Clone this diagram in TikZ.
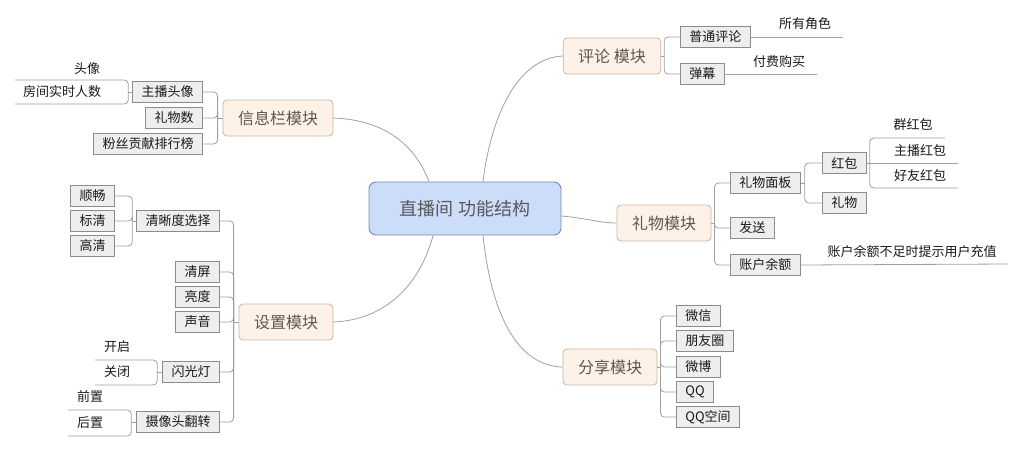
\documentclass[tikz,border=0pt]{standalone}
\usepackage{fontspec}
\usetikzlibrary{calc}
\newfontfamily\cjk{Noto Sans CJK SC}
\definecolor{cfill}{HTML}{CCDDFA}
\definecolor{cdraw}{HTML}{7089B6}
\definecolor{mfill}{HTML}{FDF1E8}
\definecolor{mdraw}{HTML}{C8B6A8}
\definecolor{sfill}{HTML}{EEEEEE}
\definecolor{sdraw}{HTML}{8C8C8C}
\definecolor{lcol}{HTML}{A0A0A0}
\definecolor{mtext}{HTML}{5E5650}
\tikzset{
  rootbox/.style={draw=cdraw, fill=cfill, rounded corners=7pt, line width=0.9pt,
    minimum width=192pt, minimum height=53pt, inner sep=0pt,
    font=\cjk\fontsize{18}{20}\selectfont, text=black!65},
  modbox/.style={draw=mdraw, fill=mfill, rounded corners=4pt, line width=0.8pt,
    minimum height=36pt, inner xsep=15pt, inner ysep=0pt,
    font=\cjk\fontsize{16}{18}\selectfont, text=mtext},
  subbox/.style={draw=sdraw, fill=sfill, line width=0.7pt,
    minimum height=21pt, inner xsep=9pt, inner ysep=0pt,
    font=\cjk\fontsize{13}{15}\selectfont, text=black!90},
  leaftext/.style={inner sep=0pt, font=\cjk\fontsize{13}{15}\selectfont, text=black!90},
  conn/.style={draw=lcol, line width=0.8pt},
  bracket/.style={draw=lcol, line width=0.8pt, rounded corners=4pt},
}
\begin{document}
\begin{tikzpicture}[x=1pt,y=-1pt]
\useasboundingbox (0,0) rectangle (1024,450);
\fill[white] (0,0) rectangle (1024,450);

% root
\node[rootbox] (root) at (465,208.5) {直播间 功能结构};

% modules
\node[modbox] (info) at (278,118) {信息栏模块};
\node[modbox] (set) at (286,322) {设置模块};
\node[modbox] (pl) at (612,56) {评论 模块};
\node[modbox] (gift) at (664,223) {礼物模块};
\node[modbox] (share) at (610,367) {分享模块};

% root connectors
\coordinate (r1) at ($(root.north)+(-36,0)$);
\coordinate (r2) at ($(root.north)+(18,0)$);
\coordinate (r3) at (root.east |- 0,216);
\coordinate (r4) at ($(root.south)+(-32,0)$);
\coordinate (r5) at ($(root.south)+(18,0)$);
\draw[conn] (r1) .. controls (415,145) and (385,120) .. (info.east);
\draw[conn] (r2) .. controls (492,110) and (520,58) .. (pl.west);
\draw[conn] (r3) .. controls (585,218) and (600,223) .. (gift.west);
\draw[conn] (r4) .. controls (420,285) and (385,320) .. (set.east);
\draw[conn] (r5) .. controls (492,320) and (520,366) .. (share.west);

% ---------- info module ----------
\node[subbox, anchor=east] (zbtx) at (203,92) {主播头像};
\node[subbox, anchor=east] (lws) at (203,118) {礼物数};
\node[subbox, anchor=east] (fsph) at (203,144) {粉丝贡献排行榜};
\draw[conn] (info.west) -- ++(-5,0) coordinate (infoj);
\draw[bracket] (infoj) |- (zbtx.east);
\draw[bracket] (infoj) |- (lws.east);
\draw[bracket] (infoj) |- (fsph.east);

\node[leaftext] (tx) at (87,69) {头像};
\node[leaftext] (fjrs) at (62,92) {房间实时人数};
\coordinate (txend) at (15,80);
\coordinate (fjrsend) at (15,104);
\draw[conn] (zbtx.west) -- ++(-4,0) coordinate (zbtxj);
\draw[bracket] (zbtxj) |- (txend);
\draw[bracket] (zbtxj) |- (fjrsend);

% ---------- settings module ----------
\node[subbox, anchor=east] (qxd) at (220,221) {清晰度选择};
\node[subbox, anchor=east] (qp) at (220,272) {清屏};
\node[subbox, anchor=east] (ld) at (220,297) {亮度};
\node[subbox, anchor=east] (sy) at (220,322) {声音};
\node[subbox, anchor=east] (sgd) at (220,372) {闪光灯};
\node[subbox, anchor=east] (sxt) at (220,422) {摄像头翻转};
\draw[conn] (set.west) -- ++(-5,0) coordinate (setj);
\foreach \c in {qxd,qp,ld,sy,sgd,sxt}{\draw[bracket] (setj) |- (\c.east);}

\node[subbox, anchor=east] (sc) at (115,196) {顺畅};
\node[subbox, anchor=east] (bq) at (115,221) {标清};
\node[subbox, anchor=east] (gq) at (115,246) {高清};
\draw[conn] (qxd.west) -- ++(-4,0) coordinate (qxdj);
\foreach \c in {sc,bq,gq}{\draw[bracket] (qxdj) |- (\c.east);}

\node[leaftext] (kq) at (117,347) {开启};
\node[leaftext] (gb) at (117,372) {关闭};
\coordinate (kqend) at (95,360);
\coordinate (gbend) at (95,385);
\draw[conn] (sgd.west) -- ++(-5,0) coordinate (sgdj);
\draw[bracket] (sgdj) |- (kqend);
\draw[bracket] (sgdj) |- (gbend);

\node[leaftext] (qz) at (90,397) {前置};
\node[leaftext] (hz) at (90,423) {后置};
\coordinate (qzend) at (68,410);
\coordinate (hzend) at (68,436);
\draw[conn] (sxt.west) -- ++(-5,0) coordinate (sxtj);
\draw[bracket] (sxtj) |- (qzend);
\draw[bracket] (sxtj) |- (hzend);

% ---------- comment module ----------
\node[subbox, anchor=west] (ptpl) at (680,37) {普通评论};
\node[subbox, anchor=west] (dm) at (680,74) {弹幕};
\draw[conn] (pl.east) -- ++(3,0) coordinate (plj);
\draw[bracket] (plj) |- (ptpl.west);
\draw[bracket] (plj) |- (dm.west);
\node[leaftext] (syjs) at (805,24) {所有角色};
\node[leaftext] (ffgm) at (779,62) {付费购买};
\coordinate (syjsend) at (843,37);
\coordinate (fffmend) at (817,74);
\draw[conn] (ptpl.east) -- (syjsend);
\draw[conn] (dm.east) -- (fffmend);

% ---------- gift module ----------
\node[subbox, anchor=west] (lwmb) at (730,183) {礼物面板};
\node[subbox, anchor=west] (fs) at (730,228) {发送};
\node[subbox, anchor=west] (zhye) at (730,265) {账户余额};
\draw[conn] (gift.east) -- ++(3,0) coordinate (giftj);
\foreach \c in {lwmb,fs,zhye}{\draw[bracket] (giftj) |- (\c.west);}

\node[subbox, anchor=west] (hb) at (822,163) {红包};
\node[subbox, anchor=west] (lw) at (822,203) {礼物};
\draw[conn] (lwmb.east) -- ++(4,0) coordinate (lwmbj);
\draw[bracket] (lwmbj) |- (hb.west);
\draw[bracket] (lwmbj) |- (lw.west);

\node[leaftext] (qhb) at (913,125) {群红包};
\node[leaftext] (zbhb) at (920,151) {主播红包};
\node[leaftext] (hyhb) at (920,176) {好友红包};
\coordinate (qhbend) at (945,138);
\coordinate (zbhbend) at (958,163);
\coordinate (hyhbend) at (958,188);
\draw[conn] (hb.east) -- ++(3,0) coordinate (hbj);
\draw[bracket] (hbj) |- (qhbend);
\draw[conn] (hbj) -- (zbhbend);
\draw[bracket] (hbj) |- (hyhbend);

\node[leaftext] (yebz) at (912,252) {账户余额不足时提示用户充值};
\coordinate (yebzend) at (1008,264);
\draw[conn] (zhye.east) -- (yebzend);

% ---------- share module ----------
\node[subbox, anchor=west] (wx) at (676,316) {微信};
\node[subbox, anchor=west] (pyq) at (676,341) {朋友圈};
\node[subbox, anchor=west] (wb) at (676,367) {微博};
\node[subbox, anchor=west] (qq) at (676,392) {QQ};
\node[subbox, anchor=west] (qqkj) at (676,417) {QQ空间};
\draw[conn] (share.east) -- ++(3,0) coordinate (sharej);
\foreach \c in {wx,pyq,wb,qq,qqkj}{\draw[bracket] (sharej) |- (\c.west);}
\end{tikzpicture}
\end{document}
